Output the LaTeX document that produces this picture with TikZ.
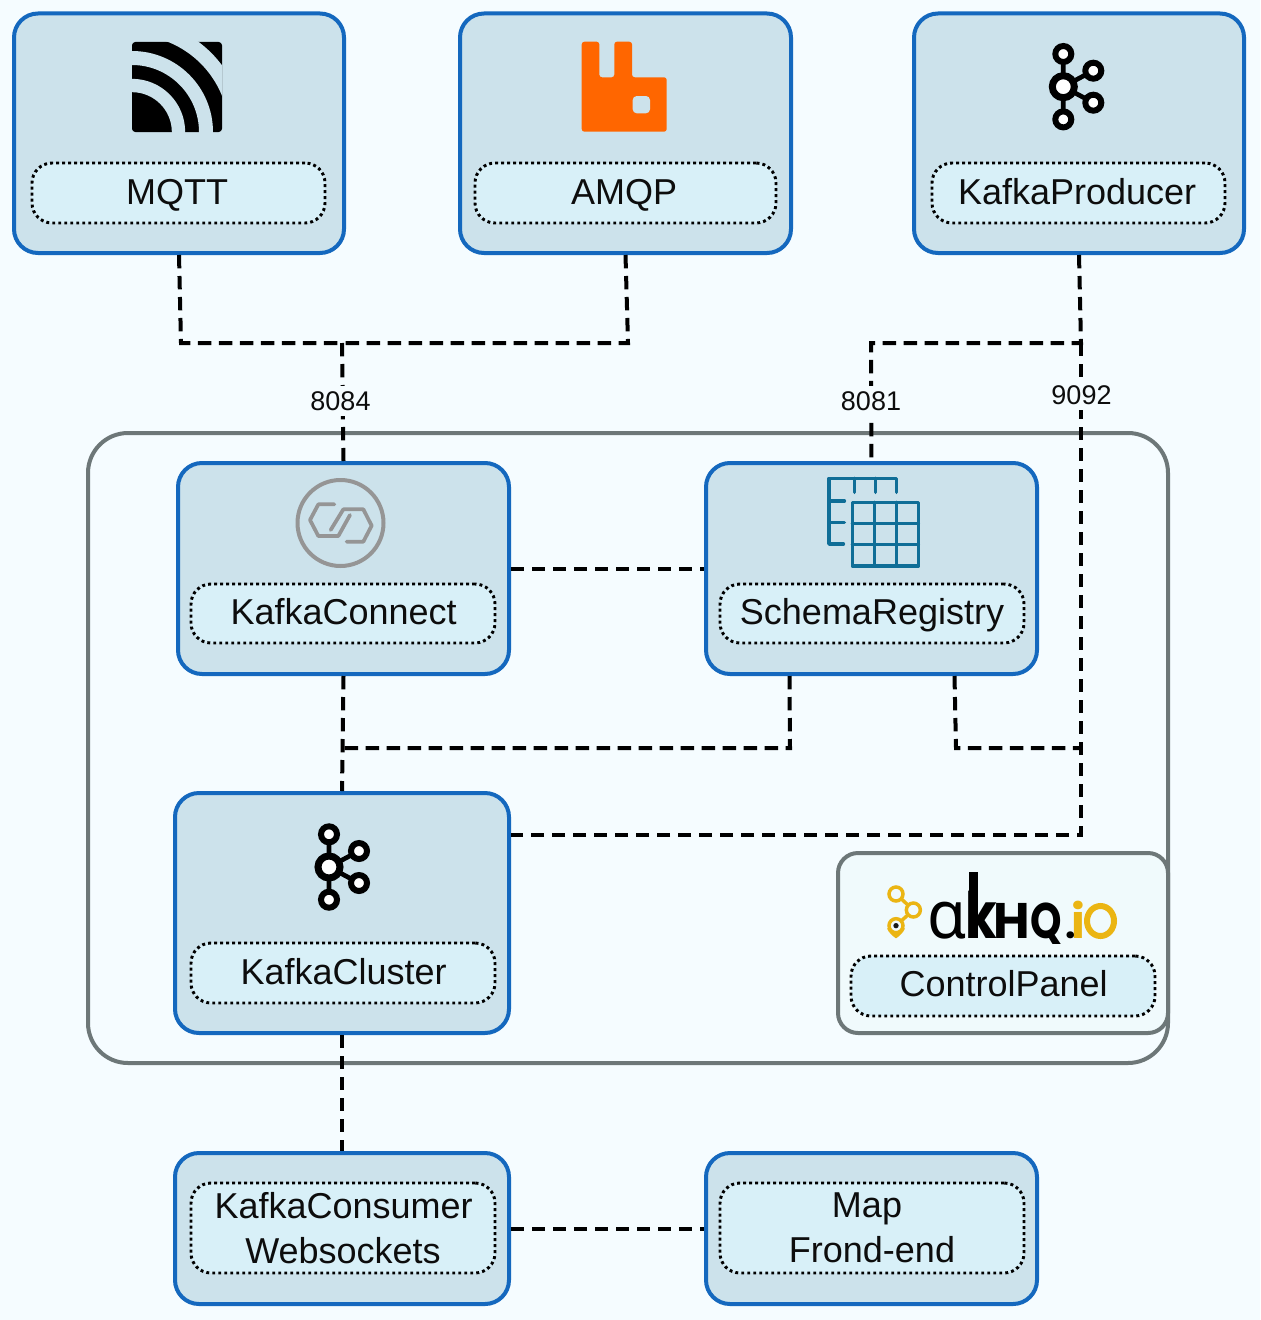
\documentclass[tikz,border=0pt]{standalone}
\usepackage{fontspec}
\setmainfont{Liberation Sans}
\newfontfamily\popfont{Poppins}
\newfontfamily\notofont{Noto Sans}
\definecolor{pagebg}{HTML}{F5FCFF}
\definecolor{boxfill}{HTML}{CCE2EB}
\definecolor{boxline}{HTML}{1468BE}
\definecolor{tagfill}{HTML}{D8F0F8}
\definecolor{groupline}{HTML}{6D7778}
\definecolor{panelfill}{HTML}{F0FAFC}
\definecolor{rabbit}{HTML}{FF6600}
\definecolor{linkgrey}{HTML}{959595}
\definecolor{gridblue}{HTML}{0F6E97}
\definecolor{akhq}{HTML}{EBB513}
\tikzset{
  x=0.75pt,y=-0.75pt,
  wh/.style 2 args={minimum width=#1*0.75pt,minimum height=#2*0.75pt},
  boxnode/.style={rectangle,draw=boxline,fill=boxfill,line width=3pt,rounded corners=18pt,inner sep=0pt},
  panelnode/.style={rectangle,draw=groupline,fill=panelfill,line width=3pt,rounded corners=15pt,inner sep=0pt},
  groupnode/.style={rectangle,draw=groupline,line width=3pt,rounded corners=30pt,inner sep=0pt},
  tagbase/.style={rectangle,draw=black,fill=tagfill,line width=2.2pt,dash pattern=on 2.2pt off 2.3pt,rounded corners=15pt,inner sep=0pt,
     font=\fontsize{27}{33.75}\selectfont,text=black!95,align=center},
  tagnode/.style={tagbase,text height=21.5pt,text depth=4.5pt},
  link/.style={draw=black,line width=3pt,dash pattern=on 10pt off 5.75pt},
  portlabel/.style={fill=pagebg,inner xsep=1.5pt,inner ysep=4pt,font=\fontsize{20.25}{24}\selectfont,text=black!95},
  logoletter/.style={anchor=base west,inner sep=0pt,outer sep=0pt,transform shape},
  kafkaicon/.pic={
    \draw[line width=3.5pt] (0,-32.7) -- (0,32.7) (0,0) -- (30,-16) (0,0) -- (30,16);
    \foreach \q in {(0,-32.7),(0,32.7),(30,-16),(30,16)}
      \draw[fill=white,line width=4.5pt] \q circle[radius=8];
    \draw[fill=white,line width=5.25pt] (0,0) circle[radius=11];
  }
}
\begin{document}
\begin{tikzpicture}
\useasboundingbox (0,0) rectangle (1260,1320);
\fill[pagebg] (0,0) rectangle (1260,1320);

% group frame
\node[groupnode,wh={1080}{630}] (group) at (628,748) {};

% main boxes
\node[boxnode,wh={330}{239.5}] (mqtt) at (179,133.25) {};
\node[boxnode,wh={331}{239.5}] (amqp) at (625.5,133.25) {};
\node[boxnode,wh={330}{239.5}] (prod) at (1079,133.25) {};
\node[boxnode,wh={331}{211}] (connect) at (343.5,568.5) {};
\node[boxnode,wh={331}{211}] (schema) at (871.5,568.5) {};
\node[boxnode,wh={334}{240}] (cluster) at (342,913) {};
\node[boxnode,wh={334}{151}] (consumer) at (342,1228.5) {};
\node[boxnode,wh={331}{151}] (map) at (871.5,1228.5) {};
\node[panelnode,wh={330}{180}] (panel) at (1003,943) {};

% junctions
\coordinate (j1) at (181,343);
\coordinate (j2) at (342,343);
\coordinate (j3) at (628,343);
\coordinate (j4) at (1081,343);
\coordinate (j5) at (871,343);
\coordinate (j6) at (1081,835);
\coordinate (j7) at (342,748);
\coordinate (j8) at (790,748);
\coordinate (j9) at (956,748);
\coordinate (j10) at (1081,748);

% connectors
\draw[link] (mqtt.south) -- (j1) -- (j2);
\draw[link] (amqp.south) -- (j3) -- (j2);
\draw[link] (j2) -- (connect.north);
\draw[link] (prod.south) -- (j4) -- (j5) -- (schema.north);
\draw[link] (j4) -- (j6) -- (cluster.east |- j6);
\draw[link] (connect.east) -- (schema.west);
\draw[link] (connect.south) -- (cluster.north);
\draw[link] ([xshift=-61.5pt]schema.south) -- (j8) -- (j7);
\draw[link] ([xshift=62.25pt]schema.south) -- (j9) -- (j10);
\draw[link] (cluster.south) -- (consumer.north);
\draw[link] (consumer.east) -- (map.west);

% port labels
\node[portlabel] (p8084) at (340.5,401) {8084};
\node[portlabel] (p8081) at (871,401) {8081};
\node[portlabel] (p9092) at (1081.5,395) {9092};

% tags
\node[tagnode,wh={293}{60}] (tmqtt) at (178.5,193) {\kern-2pt MQTT};
\node[tagnode,wh={301}{60}] (tamqp) at (625.5,193) {\kern-2pt AMQP};
\node[tagnode,wh={293}{60}] (tprod) at (1078.5,193) {\kern-2pt KafkaProducer};
\node[tagnode,wh={304}{59}] (tconnect) at (343,613.5) {\kern1pt KafkaConnect};
\node[tagnode,wh={304}{59}] (tschema) at (872,613.5) {SchemaRegistry};
\node[tagnode,wh={304}{60}] (tcluster) at (343,973) {\kern1pt KafkaCluster};
\node[tagbase,wh={304}{60},text height=20.5pt,text depth=5.5pt] (tpanel) at (1003,986) {\kern1pt ControlPanel};
\node[tagbase,wh={304}{90}] (tconsumer) at (343,1228) {\kern1pt KafkaConsumer\\Websockets};
\node[tagbase,wh={304}{90}] (tmap) at (872,1228) {\kern-7.5pt Map\\Frond-end};

% MQTT icon
\fill[black,rounded corners=2.5pt] (132,42) rectangle (222,132);
\begin{scope}
  \clip (132,42) rectangle (222,132);
  \draw[boxfill,line width=10pt] (132,132) circle[radius=46.5];
  \draw[boxfill,line width=10.5pt] (132,132) circle[radius=74];
  \draw[boxfill,line width=11.25pt] (132,132) circle[radius=104.5];
\end{scope}

% AMQP icon
\fill[rabbit,rounded corners=2pt] (581.7,41.7) -- (599.3,41.7) -- (599.3,77.3) -- (614.3,77.3) -- (614.3,41.7) -- (632,41.7) -- (632,77.3) -- (666.7,77.3) -- (666.7,131.7) -- (581.7,131.7) -- cycle;
\fill[boxfill,rounded corners=3pt] (632.7,96) rectangle (650,113.3);

% Kafka icons
\pic at (1063.3,86.7) {kafkaicon};
\pic at (329,867) {kafkaicon};

% connect icon
\draw[linkgrey,line width=3pt] (340.5,523) circle[radius=43];
\begin{scope}[shift={(285,470)},x=0.25pt,y=-0.25pt,line width=2.8pt,draw=linkgrey,line cap=round,line join=round]
  \draw (148,103) -- (100,103) -- (75,150) -- (100,198) -- (160,198) -- (195,135);
  \draw (185,215) -- (235,215) -- (260,167) -- (235,118) -- (175,118) -- (137,180);
\end{scope}

% schema icon
\begin{scope}[shift={(815,465)},x=0.25pt,y=-0.25pt,line width=2.7pt,draw=gridblue,line cap=round,line join=round]
  \draw (85,237) -- (42,237) -- (42,40) -- (245,40) -- (245,82);
  \draw (118,40) -- (118,82) (181,40) -- (181,82);
  \draw (42,108) -- (88,108) (42,172) -- (88,172);
  \draw (112,112) rectangle (310,303);
  \draw (178,112) -- (178,303) (245,112) -- (245,303);
  \draw (112,175) -- (310,175) (112,238) -- (310,238);
\end{scope}

% akhq logo
\begin{scope}[shift={(830,845)},x=0.25pt,y=-0.25pt]
  \draw[akhq,line width=2.6pt] (198,147) -- (250,195) -- (198,242);
  \fill[akhq] (171,250) .. controls (175,262) and (190,275) .. (198,280) .. controls (206,275) and (221,262) .. (225,250) -- cycle;
  \draw[akhq,fill=panelfill,line width=2.6pt] (198,147) circle[radius=21];
  \draw[akhq,fill=panelfill,line width=2.6pt] (250,195) circle[radius=21];
  \draw[akhq,fill=panelfill,line width=2.6pt] (198,242) circle[radius=21];
  \fill[black!90] (198,242) circle[radius=8];
  \fill[black] (418,81) rectangle (444,280);
  \node[logoletter,xscale=.95,font=\notofont\bfseries\fontsize{50}{50}\selectfont] (la) at (292,280) {ɑ};
  \node[logoletter,xscale=.8,font=\popfont\bfseries\fontsize{48}{48}\selectfont] (lk) at (407,280) {k};
  \node[logoletter,xscale=1,font=\popfont\bfseries\fontsize{37.5}{37.5}\selectfont] (lh) at (490,280) {H};
  \node[logoletter,xscale=.8,font=\popfont\bfseries\fontsize{37.5}{37.5}\selectfont] (lq) at (602,280) {Q};
  \node[logoletter,font=\popfont\bfseries\fontsize{28}{28}\selectfont] (ld) at (705,280) {.};
  \node[logoletter,font=\popfont\bfseries\fontsize{35}{35}\selectfont,text=akhq] (li) at (724,280) {i};
  \draw[akhq,line width=4.5pt] (811.5,228) ellipse[x radius=40.5,y radius=45];
\end{scope}
\end{tikzpicture}
\end{document}
